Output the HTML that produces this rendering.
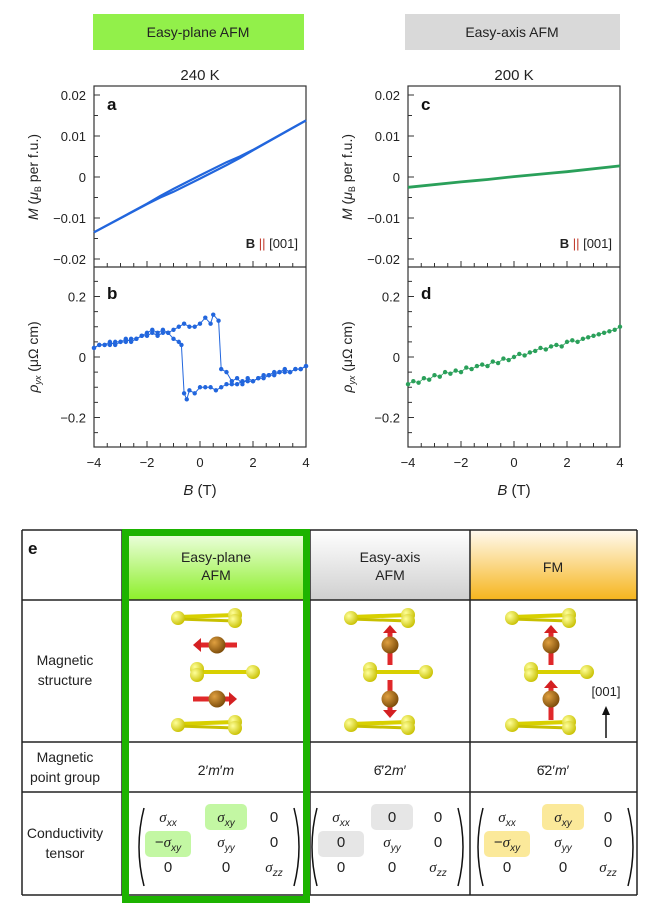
<!DOCTYPE html>
<html><head><meta charset="utf-8">
<style>
html,body{margin:0;padding:0;background:#fff;}
svg{display:block;font-family:"Liberation Sans",sans-serif;}
</style></head>
<body>
<svg id="fig" width="658" height="911" viewBox="0 0 658 911">
<defs>
<linearGradient id="gGreen" x1="0" y1="0" x2="0" y2="1"><stop offset="0" stop-color="#f2ffe8"/><stop offset="1" stop-color="#8def2a"/></linearGradient>
<linearGradient id="gGray" x1="0" y1="0" x2="0" y2="1"><stop offset="0" stop-color="#ffffff"/><stop offset="1" stop-color="#cfcfcf"/></linearGradient>
<linearGradient id="gOrange" x1="0" y1="0" x2="0" y2="1"><stop offset="0" stop-color="#fffaf0"/><stop offset="1" stop-color="#f6b51c"/></linearGradient>
<radialGradient id="gYel" cx="0.35" cy="0.35" r="0.7"><stop offset="0" stop-color="#ffff9a"/><stop offset="1" stop-color="#c8c000"/></radialGradient>
<radialGradient id="gBrown" cx="0.35" cy="0.35" r="0.7"><stop offset="0" stop-color="#e0a040"/><stop offset="1" stop-color="#7a4a08"/></radialGradient>
</defs>
<rect x="93" y="14" width="211" height="36" fill="#92f04a"/>
<text x="198" y="37" text-anchor="middle" font-size="14" fill="#222">Easy-plane AFM</text>
<rect x="405" y="14" width="215" height="36" fill="#d9d9d9"/>
<text x="512" y="37" text-anchor="middle" font-size="14" fill="#222">Easy-axis AFM</text>
<text x="200" y="80" text-anchor="middle" font-size="15" fill="#222">240 K</text>
<text x="514" y="80" text-anchor="middle" font-size="15" fill="#222">200 K</text>
<g id="charts"></g>
<g id="table"></g>
</svg>
<script>
// ---- chart data ----
const mB = [-4, -2, -1.5, -1, 0, 1, 1.5, 2, 4];
const mUpA = [-0.0135, -0.0066, -0.0050, -0.0036, -0.0004, 0.0029, 0.0046, 0.0065, 0.0138];
const mDownA = [-0.0135, -0.0065, -0.0046, -0.0029, 0.0004, 0.0036, 0.0050, 0.0066, 0.0138];
const mC = [-0.0025, -0.0012, -0.0009, -0.0006, 0.0001, 0.0007, 0.0010, 0.0013, 0.0027];
const bUpB = [-4,-3.8,-3.6,-3.4,-3.2,-3,-2.8,-2.6,-2.4,-2.2,-2,-1.8,-1.6,-1.4,-1.2,-1,-0.8,-0.6,-0.4,-0.2,0,0.2,0.4,0.5,0.7,0.8,1,1.2,1.4,1.6,1.8,2,2.2,2.4,2.6,2.8,3,3.2,3.4,3.6,3.8,4];
const bUpR = [0.03,0.04,0.04,0.05,0.04,0.05,0.06,0.05,0.06,0.07,0.07,0.08,0.07,0.08,0.08,0.09,0.10,0.11,0.10,0.10,0.11,0.13,0.11,0.14,0.12,-0.04,-0.05,-0.08,-0.07,-0.09,-0.07,-0.08,-0.07,-0.06,-0.06,-0.05,-0.05,-0.04,-0.05,-0.04,-0.04,-0.03];
const bDnB = [4,3.8,3.6,3.4,3.2,3,2.8,2.6,2.4,2.2,2,1.8,1.6,1.4,1.2,1,0.8,0.6,0.4,0.2,0,-0.2,-0.4,-0.5,-0.6,-0.7,-0.8,-1,-1.2,-1.4,-1.6,-1.8,-2,-2.2,-2.4,-2.6,-2.8,-3,-3.2,-3.4,-3.6,-3.8,-4];
const bDnR = [-0.03,-0.04,-0.04,-0.05,-0.05,-0.05,-0.06,-0.06,-0.07,-0.07,-0.08,-0.08,-0.08,-0.09,-0.09,-0.09,-0.10,-0.11,-0.10,-0.10,-0.10,-0.12,-0.11,-0.14,-0.12,0.04,0.05,0.06,0.08,0.09,0.08,0.09,0.08,0.07,0.06,0.06,0.05,0.05,0.05,0.04,0.04,0.04,0.03];
const dB = [-4,-3.8,-3.6,-3.4,-3.2,-3,-2.8,-2.6,-2.4,-2.2,-2,-1.8,-1.6,-1.4,-1.2,-1,-0.8,-0.6,-0.4,-0.2,0,0.2,0.4,0.6,0.8,1,1.2,1.4,1.6,1.8,2,2.2,2.4,2.6,2.8,3,3.2,3.4,3.6,3.8,4];
const dR = [-0.09,-0.08,-0.085,-0.07,-0.075,-0.06,-0.065,-0.05,-0.055,-0.045,-0.05,-0.035,-0.04,-0.03,-0.025,-0.03,-0.015,-0.02,-0.005,-0.01,0.0,0.01,0.005,0.015,0.02,0.03,0.025,0.035,0.04,0.035,0.05,0.055,0.05,0.06,0.065,0.07,0.075,0.08,0.085,0.09,0.10];
const xTicks = [-4,-2,0,2,4];
const mTicks = [0.02,0.01,0,-0.01,-0.02];
const mTickLabels = ["0.02","0.01","0","\u22120.01","\u22120.02"];
const rTicks = [0.2,0,-0.2];
const rTickLabels = ["0.2","0","\u22120.2"];
const xTickLabels = ["\u22124","\u22122","0","2","4"];

const NS = "http://www.w3.org/2000/svg";
const charts = document.getElementById('charts');
function mk(tag, attrs, parent, txt){const e=document.createElementNS(NS,tag);for(const k in attrs)e.setAttribute(k,attrs[k]);if(txt!==undefined)e.textContent=txt;(parent||charts).appendChild(e);return e;}

function panel(x0, name){
  const W=212;
  const sx = b => x0 + (b+4)/8*W;
  const syM = v => 177 - v*4100;
  const syR = v => 357 - v*302.5;
  const g = mk('g',{});
  
  
  mk('rect',{x:x0,y:86,width:W,height:361,fill:'none',stroke:'#333','stroke-width':1.2},g);
  mk('line',{x1:x0,y1:267,x2:x0+W,y2:267,stroke:'#333','stroke-width':1.2},g);
  for(let i=-4;i<=4;i++){const v=i*0.005;const y=syM(v);mk('line',{x1:x0,y1:y,x2:x0+(i%2===0?6:4),y2:y,stroke:'#333'},g);}
  for(let i=-6;i<=6;i++){const v=i*0.05;const y=syR(v);if(y<270||y>445)continue;mk('line',{x1:x0,y1:y,x2:x0+(i%4===0?6:4),y2:y,stroke:'#333'},g);}
  for(let i=-8;i<=8;i++){const x=sx(i*0.5);const L=(i%4===0)?6:4;
    mk('line',{x1:x,y1:267,x2:x,y2:267-L,stroke:'#333'},g);
    mk('line',{x1:x,y1:447,x2:x,y2:447-L,stroke:'#333'},g);}
  mTicks.forEach((v,i)=>{const t=mk('text',{x:x0-8,y:syM(v)+5,'text-anchor':'end','font-size':13,fill:'#222'},g,mTickLabels[i]);
    });
  rTicks.forEach((v,i)=>{const t=mk('text',{x:x0-8,y:syR(v)+5,'text-anchor':'end','font-size':13,fill:'#222'},g,rTickLabels[i]);
    });
  xTicks.forEach((v,i)=>{const t=mk('text',{x:sx(v),y:467,'text-anchor':'middle','font-size':13,fill:'#222'},g,xTickLabels[i]);
    });
  const xl=mk('text',{x:x0+W/2,y:495,'text-anchor':'middle','font-size':15,fill:'#222'},g);
  xl.innerHTML='<tspan font-style="italic">B</tspan> (T)';
  
  const yl=mk('text',{transform:`translate(${x0-56},177) rotate(-90)`,'text-anchor':'middle','font-size':14,fill:'#222'},g);
  yl.innerHTML='<tspan font-style="italic">M</tspan> (<tspan font-style="italic">μ</tspan><tspan font-size="9" dy="3">B</tspan><tspan dy="-3"> per f.u.)</tspan>';
  
  const yl2=mk('text',{transform:`translate(${x0-56},357) rotate(-90)`,'text-anchor':'middle','font-size':14,fill:'#222'},g);
  yl2.innerHTML='<tspan font-style="italic">ρ</tspan><tspan font-size="9" dy="3" font-style="italic">yx</tspan><tspan dy="-3"> (μΩ cm)</tspan>';
  
  const bl=mk('text',{x:x0+W-8,y:248,'text-anchor':'end','font-size':13,fill:'#222'},g);
  bl.innerHTML='<tspan font-weight="bold">B</tspan> <tspan fill="#c0392b">||</tspan> [001]';
  
  return {sx,syM,syR,g};
}
function pathOf(xs,ys,fx,fy){return xs.map((b,i)=>(i?'L':'M')+fx(b).toFixed(1)+' '+fy(ys[i]).toFixed(1)).join(' ');}

const L = panel(94,'left');
let e;
e=mk('path',{d:pathOf(mB,mUpA,L.sx,L.syM),fill:'none',stroke:'#2266dd','stroke-width':2.2},L.g);

e=mk('path',{d:pathOf(mB,mDownA,L.sx,L.syM),fill:'none',stroke:'#2266dd','stroke-width':2.2},L.g);

e=mk('path',{d:pathOf(bUpB,bUpR,L.sx,L.syR),fill:'none',stroke:'#2266dd','stroke-width':1},L.g);

e=mk('path',{d:pathOf(bDnB,bDnR,L.sx,L.syR),fill:'none',stroke:'#2266dd','stroke-width':1},L.g);

bUpB.forEach((b,i)=>{const c=mk('circle',{cx:L.sx(b),cy:L.syR(bUpR[i]),r:2.2,fill:'#2266dd'},L.g);
  });
bDnB.forEach((b,i)=>{const c=mk('circle',{cx:L.sx(b),cy:L.syR(bDnR[i]),r:2.2,fill:'#2266dd'},L.g);
  });
e=mk('text',{x:107,y:110,'font-size':17,'font-weight':'bold',fill:'#111'},L.g,'a');

e=mk('text',{x:107,y:299,'font-size':17,'font-weight':'bold',fill:'#111'},L.g,'b');


const R = panel(408,'right');
e=mk('path',{d:pathOf(mB,mC,R.sx,R.syM),fill:'none',stroke:'#2aa05a','stroke-width':2.8},R.g);

e=mk('path',{d:pathOf(dB,dR,R.sx,R.syR),fill:'none',stroke:'#2aa05a','stroke-width':0.8},R.g);

dB.forEach((b,i)=>{const c=mk('circle',{cx:R.sx(b),cy:R.syR(dR[i]),r:2.2,fill:'#2aa05a'},R.g);
  });
e=mk('text',{x:421,y:110,'font-size':17,'font-weight':'bold',fill:'#111'},R.g,'c');

e=mk('text',{x:421,y:299,'font-size':17,'font-weight':'bold',fill:'#111'},R.g,'d');


// ---- table ----
const T = document.getElementById('table');
e=mk('rect',{x:122,y:530,width:188,height:70,fill:'url(#gGreen)'},T);
e=mk('rect',{x:310,y:530,width:160,height:70,fill:'url(#gGray)'},T);
e=mk('rect',{x:470,y:530,width:167,height:70,fill:'url(#gOrange)'},T);
[530,600,742,792,895].forEach(y=>mk('line',{x1:22,y1:y,x2:637,y2:y,stroke:'#222','stroke-width':1.5},T));
[22,122,310,470,637].forEach(x=>mk('line',{x1:x,y1:530,x2:x,y2:895,stroke:'#222','stroke-width':1.5},T));
e=mk('text',{x:28,y:554,'font-size':17,'font-weight':'bold',fill:'#111'},T,'e');
function txt(x,y,s,name,extra){const t=mk('text',Object.assign({x:x,y:y,'text-anchor':'middle','font-size':14,fill:'#222'},extra||{}),T);t.innerHTML=s;return t;}
txt(216,562,'Easy-plane','header-text-easy-plane');txt(216,580,'AFM','header-text-easy-plane-2');
txt(390,562,'Easy-axis','header-text-easy-axis');txt(390,580,'AFM','header-text-easy-axis-2');
txt(553,572,'FM','header-text-fm');
txt(65,665,'Magnetic','row-magnetic-structure');txt(65,685,'structure','row-magnetic-structure-2');
txt(65,762,'Magnetic','row-point-group');txt(65,782,'point group','row-point-group-2');
txt(65,838,'Conductivity','row-conductivity');txt(65,858,'tensor','row-conductivity-2');
txt(216,775,'2′<tspan font-style="italic">m</tspan>′<tspan font-style="italic">m</tspan>','point-group-easy-plane');
txt(390,775,'6̄′2<tspan font-style="italic">m</tspan>′','point-group-easy-axis');
txt(553,775,'6̄2′<tspan font-style="italic">m</tspan>′','point-group-fm');

function rod(x1,x2,y,parent){
  mk('line',{x1:x1,y1:y-1,x2:x2,y2:y-3,stroke:'#d8d000','stroke-width':4},parent);
  mk('line',{x1:x1,y1:y+1,x2:x2,y2:y+3,stroke:'#c8c000','stroke-width':3},parent);
  mk('circle',{cx:x1,cy:y,r:7,fill:'url(#gYel)'},parent);
  mk('circle',{cx:x2,cy:y-3,r:7,fill:'url(#gYel)'},parent);
  mk('circle',{cx:x2,cy:y+3,r:7,fill:'url(#gYel)'},parent);
}
function rodM(x1,x2,y,parent){
  mk('line',{x1:x1,y1:y,x2:x2,y2:y,stroke:'#d8d000','stroke-width':4},parent);
  mk('circle',{cx:x1,cy:y-3,r:7,fill:'url(#gYel)'},parent);
  mk('circle',{cx:x1,cy:y+3,r:7,fill:'url(#gYel)'},parent);
  mk('circle',{cx:x2,cy:y,r:7,fill:'url(#gYel)'},parent);
}
function arrow(x1,y1,x2,y2,parent){
  const dx=x2-x1,dy=y2-y1,l=Math.hypot(dx,dy),ux=dx/l,uy=dy/l;
  const hx=x2-ux*8,hy=y2-uy*8;
  mk('line',{x1:x1,y1:y1,x2:hx,y2:hy,stroke:'#e0282a','stroke-width':5},parent);
  mk('polygon',{points:`${x2},${y2} ${hx-uy*7},${hy+ux*7} ${hx+uy*7},${hy-ux*7}`,fill:'#d42022'},parent);
}
function structure(cx,type,name){
  const g=mk('g',{},T);
  
  
  rod(cx-39,cx+18,618,g);rodM(cx-20,cx+36,672,g);rod(cx-39,cx+18,725,g);
  if(type==='plane'){arrow(cx+20,645,cx-24,645,g);arrow(cx-24,699,cx+20,699,g);}
  else if(type==='axis'){arrow(cx,665,cx,625,g);arrow(cx,680,cx,718,g);}
  else {arrow(cx,665,cx,625,g);arrow(cx,720,cx,680,g);}
  mk('circle',{cx:cx,cy:645,r:8.5,fill:'url(#gBrown)'},g);
  mk('circle',{cx:cx,cy:699,r:8.5,fill:'url(#gBrown)'},g);
}
structure(217,'plane','structure-easy-plane');
structure(390,'axis','structure-easy-axis');
structure(551,'fm','structure-fm');
txt(606,696,'[001]','axis-001-label',{'font-size':13});
mk('line',{x1:606,y1:738,x2:606,y2:712,stroke:'#111','stroke-width':1.5},T);
mk('polygon',{points:'606,706 602,715 610,715',fill:'#111'},T);

const S = (sub)=>`<tspan font-style="italic" font-family="Liberation Serif">σ</tspan><tspan font-style="italic" font-size="10" dy="4">${sub}</tspan>`;
function tensor(cols,hi,hiColor,name){
  const g=mk('g',{},T);
  
  
  const rows=[822,847,872];
  const entries=[[S('xx'),hi.xy,'0'],[hi.mxy,S('yy'),'0'],['0','0',S('zz')]];
  if(hiColor){
    mk('rect',{x:cols[1]-21,y:rows[0]-18,width:42,height:26,rx:5,fill:hiColor},g);
    mk('rect',{x:cols[0]-23,y:rows[1]-16,width:46,height:26,rx:5,fill:hiColor},g);
  }
  entries.forEach((r,i)=>r.forEach((s,j)=>{const t=mk('text',{x:cols[j],y:rows[i],'text-anchor':'middle','font-size':15,fill:'#222'},g);t.innerHTML=s;}));
  const l=cols[0]-30,rr=cols[2]+26;
  mk('path',{d:`M${l+6} 808 Q${l-4} 847 ${l+6} 886`,fill:'none',stroke:'#111','stroke-width':1.5},g);
  mk('path',{d:`M${rr-6} 808 Q${rr+4} 847 ${rr-6} 886`,fill:'none',stroke:'#111','stroke-width':1.5},g);
}
tensor([168,226,274],{xy:S('xy'),mxy:'−'+S('xy')},'#c3f7a3','tensor-easy-plane');
tensor([341,392,438],{xy:'0',mxy:'0'},'#e6e6e6','tensor-easy-axis');
tensor([507,563,608],{xy:S('xy'),mxy:'−'+S('xy')},'#fbe99a','tensor-fm');

e=mk('rect',{x:125.5,y:532.5,width:181,height:367,fill:'none',stroke:'#1db300','stroke-width':7},T);

</script>
</body></html>
